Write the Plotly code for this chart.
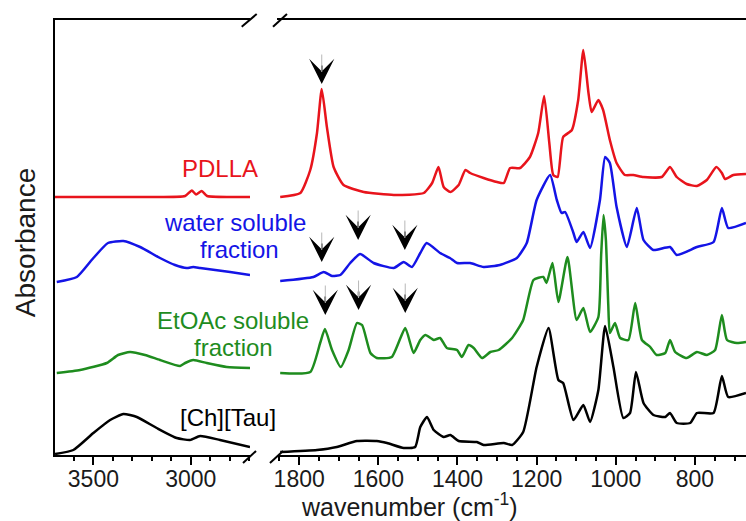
import plotly.graph_objects as go

# ---------------- data (wavenumber in cm-1, absorbance in arbitrary offset units) ----------------
# High-wavenumber window (left panel)
pdlla_hi_wn = [3697, 3209, 3029, 2995, 2973, 2944, 2916, 2798, 2696]
pdlla_hi_ab = [258, 258, 259, 264.5, 260.5, 264, 259, 258, 258]

water_hi_wn = [3688, 3585, 3500, 3425, 3346, 3260, 3158, 3081, 3021, 2987, 2952, 2875, 2798, 2696]
water_hi_ab = [173, 178, 197, 212, 214, 208, 197, 190, 187, 188, 187, 185, 183, 180]

etoac_hi_wn = [3688, 3568, 3431, 3373, 3312, 3235, 3158, 3055, 3029, 2987, 2918, 2815, 2696]
etoac_hi_ab = [82, 85, 92, 100, 103, 100, 95, 89, 92, 95, 92, 88, 87]

chtau_hi_wn = [3697, 3603, 3500, 3414, 3346, 3277, 3175, 3072, 3004, 2952, 2850, 2696]
chtau_hi_ab = [1, 5, 22, 35, 41, 38, 27, 17, 15, 19, 15, 8]

# Fingerprint window (right panel)
pdlla_lo_wn = [1848, 1797, 1772, 1755, 1743, 1730, 1713, 1688, 1637, 1561, 1485, 1464, 1448, 1435,
               1418, 1397, 1380, 1368, 1334, 1300, 1283, 1267, 1242, 1217, 1196, 1181, 1168, 1158,
               1147, 1133, 1111, 1095, 1082, 1069, 1061, 1044, 1032, 1015, 998, 977, 956, 930, 884,
               863, 846, 821, 795, 770, 746, 732, 724, 703, 671]
pdlla_lo_ab = [258, 262, 285, 322, 366, 328, 288, 270, 263, 260, 262, 272, 288, 268,
               263, 270, 285, 282, 277, 273, 272, 287, 287, 298, 322, 359, 312, 280,
               278, 318, 325, 355, 405, 362, 343, 355, 345, 315, 292, 280, 280, 278, 278,
               288, 278, 271, 269, 275, 288, 282, 276, 280, 281]

water_lo_wn = [1848, 1764, 1738, 1717, 1696, 1671, 1646, 1612, 1561, 1536, 1515, 1494, 1478, 1444,
               1419, 1401, 1368, 1334, 1293, 1250, 1225, 1200, 1166, 1149, 1137, 1128, 1107, 1099,
               1082, 1065, 1040, 1027, 1015, 998, 972, 947, 930, 905, 863, 846, 795, 753, 732, 716, 671]
water_lo_ab = [174, 178, 183, 179, 180, 192, 201, 192, 187, 193, 188, 202, 212, 202,
               197, 192, 192, 188, 190, 197, 212, 255, 280, 255, 242, 243, 222, 213,
               223, 207, 255, 298, 292, 248, 208, 247, 215, 205, 208, 200, 208, 213, 247, 227, 232]

etoac_lo_wn = [1848, 1772, 1747, 1735, 1717, 1695, 1675, 1654, 1641, 1620, 1604, 1566, 1532, 1511,
               1494, 1481, 1460, 1444, 1427, 1401, 1389, 1372, 1359, 1338, 1317, 1296, 1262, 1234,
               1208, 1183, 1175, 1160, 1145, 1122, 1099, 1082, 1065, 1044, 1037, 1031, 1025, 1019,
               1015, 1002, 989, 968, 951, 934, 913, 897, 875, 863, 850, 821, 795, 770, 749, 732,
               719, 694, 671]
etoac_lo_ab = [82, 83, 112, 126, 105, 88, 105, 132, 130, 102, 97, 98, 127, 102,
               115, 120, 115, 117, 107, 105, 98, 110, 107, 97, 103, 105, 117, 135,
               175, 178, 172, 192, 153, 198, 135, 147, 123, 138, 200, 240, 215, 150,
               122, 132, 117, 115, 152, 115, 108, 100, 102, 115, 103, 97, 103, 100, 105, 140,
               115, 112, 113]

chtau_lo_wn = [1848, 1755, 1705, 1654, 1604, 1578, 1536, 1507, 1494, 1477, 1460, 1435, 1418, 1397,
               1351, 1334, 1283, 1262, 1234, 1200, 1170, 1145, 1133, 1107, 1082, 1065, 1044, 1027,
               1006, 981, 964, 949, 930, 905, 875, 863, 846, 812, 795, 753, 732, 716, 671]
chtau_lo_ab = [3, 5, 8, 14, 14, 12, 7, 8, 28, 38, 25, 18, 20, 14,
               13, 10, 12, 10, 23, 88, 127, 75, 72, 35, 50, 33, 65, 129,
               88, 37, 42, 83, 52, 40, 38, 42, 32, 32, 42, 42, 79, 58, 62]

# Marked bands (arrows): wavenumber and absorbance level at the arrow tip
arrow_wn = [1743, 1743, 1651, 1533, 1734, 1650, 1532]
arrow_ab = [371, 193, 215, 205, 140, 145, 142]

left_ticks = [3500, 3000]
right_ticks = [1800, 1600, 1400, 1200, 1000, 800]

series_names = ["PDLLA", "water soluble fraction", "EtOAc soluble fraction", "[Ch][Tau]"]
colors = ["#e8141c", "#1414e6", "#1e8c1e", "#000000"]

FONT = "Arial, Liberation Sans, sans-serif"

# ---------------- figure ----------------
fig = go.Figure()
hi = [(pdlla_hi_wn, pdlla_hi_ab), (water_hi_wn, water_hi_ab), (etoac_hi_wn, etoac_hi_ab), (chtau_hi_wn, chtau_hi_ab)]
lo = [(pdlla_lo_wn, pdlla_lo_ab), (water_lo_wn, water_lo_ab), (etoac_lo_wn, etoac_lo_ab), (chtau_lo_wn, chtau_lo_ab)]
for name, col, (xw, yw), (xl, yl) in zip(series_names, colors, hi, lo):
    fig.add_trace(go.Scatter(x=xw, y=yw, mode="lines", name=name, showlegend=False,
                             line=dict(color=col, width=2.5, shape="spline", smoothing=0.5),
                             xaxis="x", yaxis="y"))
    fig.add_trace(go.Scatter(x=xl, y=yl, mode="lines", name=name, showlegend=False,
                             line=dict(color=col, width=2.5, shape="spline", smoothing=0.5),
                             xaxis="x2", yaxis="y2"))

# arrows: black barbed head, then thin grey stem drawn over it
annotations = []
for xa, ya in zip(arrow_wn, arrow_ab):
    annotations.append(dict(x=xa, y=ya, xref="x2", yref="y2", text="", showarrow=True,
                            ax=0, ay=-20, arrowhead=3, arrowsize=2.8, arrowwidth=1.5, arrowcolor="black"))
    annotations.append(dict(x=xa, y=ya, xref="x2", yref="y2", text="", showarrow=True,
                            ax=0, ay=-31, arrowhead=0, arrowwidth=1, arrowcolor="#b8b8b8",
                            standoff=12))

# series labels
labels = [("PDLLA", 0.2388, 287, colors[0]),
          ("water soluble", 0.2605, 233, colors[1]),
          ("fraction", 0.2663, 206, colors[1]),
          ("EtOAc soluble", 0.2576, 135, colors[2]),
          ("fraction", 0.2576, 108, colors[2]),
          ("[Ch][Tau]", 0.2504, 38, colors[3])]
for txt, xp, yv, col in labels:
    annotations.append(dict(x=xp, y=yv, xref="paper", yref="y", text=txt, showarrow=False,
                            xanchor="center", yanchor="middle",
                            font=dict(family=FONT, size=24, color=col)))

annotations.append(dict(x=0.5137, y=-0.116, xref="paper", yref="paper",
                        text="wavenumber (cm<sup>-1</sup>)", showarrow=False,
                        xanchor="center", yanchor="middle",
                        font=dict(family=FONT, size=25, color="#1a1a1a")))
annotations.append(dict(x=-0.0434, y=0.487, xref="paper", yref="paper",
                        text="Absorbance", showarrow=False, textangle=-90,
                        xanchor="center", yanchor="middle",
                        font=dict(family=FONT, size=28, color="#1a1a1a")))

# axis-break marks
shapes = []
for (x0, y0, x1, y1) in [(0.2721, -0.0184, 0.2909, 0.0092), (0.3111, -0.0184, 0.3300, 0.0092),
                         (0.2702, 0.9846, 0.2919, 1.0138), (0.3155, 0.9846, 0.3357, 1.0138)]:
    shapes.append(dict(type="line", xref="paper", yref="paper", x0=x0, y0=y0, x1=x1, y1=y1,
                       line=dict(color="black", width=2)))

axis_common = dict(showgrid=False, zeroline=False, showline=True, linecolor="black", linewidth=2,
                   mirror=True, ticks="outside", ticklen=8, tickwidth=1.5, tickcolor="black",
                   ticklabelstandoff=-6,
                   tickfont=dict(family=FONT, size=23, color="#1a1a1a"))

fig.update_layout(
    width=746, height=521,
    margin=dict(l=55, r=0, t=20, b=66),
    plot_bgcolor="white", paper_bgcolor="white",
    xaxis=dict(domain=[0, 0.2822], range=[3697, 2696], tickvals=left_ticks,
               minor=dict(dtick=100, tick0=0, ticks="outside", ticklen=4, tickcolor="black", tickwidth=1.5),
               anchor="y", **axis_common),
    xaxis2=dict(domain=[0.3213, 1.0], range=[1856, 671], tickvals=right_ticks,
                minor=dict(dtick=50, tick0=0, ticks="outside", ticklen=4, tickcolor="black", tickwidth=1.5),
                anchor="y2", **axis_common),
    yaxis=dict(range=[0, 435], showgrid=False, zeroline=False, showline=True, linecolor="black",
               linewidth=2, showticklabels=False, ticks="", anchor="x"),
    yaxis2=dict(range=[0, 435], showgrid=False, zeroline=False, showline=False,
                showticklabels=False, ticks="", anchor="x2"),
    annotations=annotations,
    shapes=shapes,
)

fig.write_html("out.html")
